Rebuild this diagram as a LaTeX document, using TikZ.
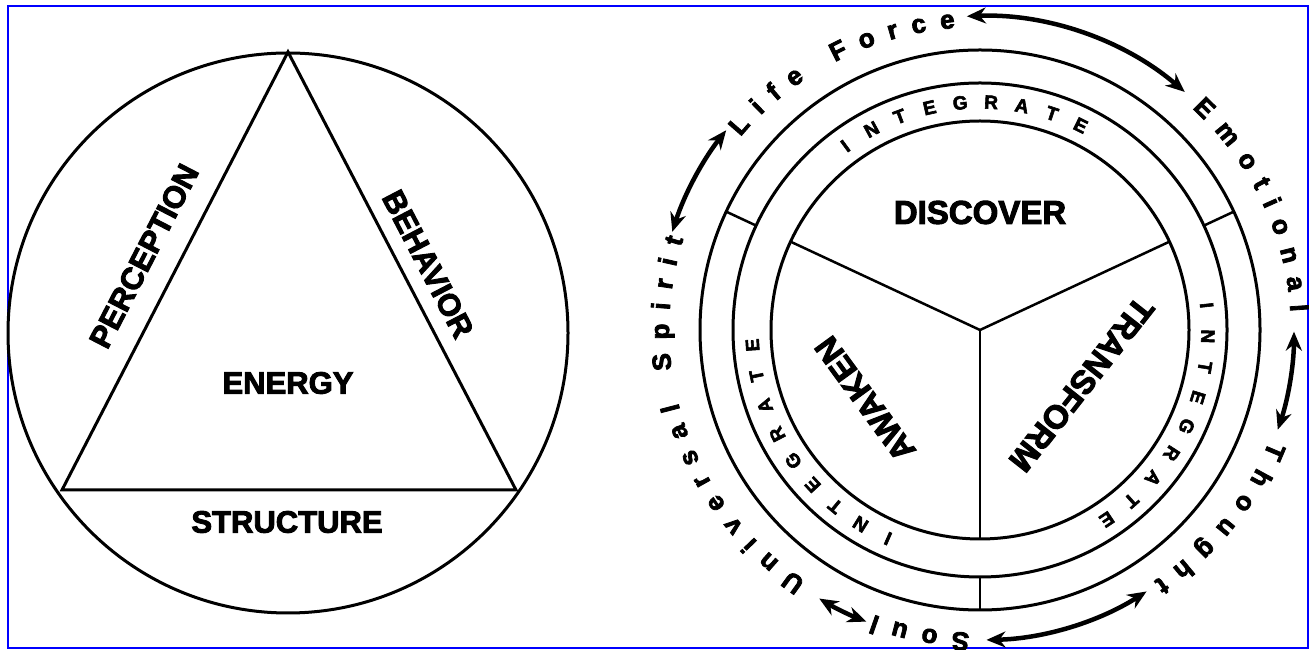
\documentclass[tikz,border=0pt]{standalone}
\usepackage{fontspec}
\setmainfont{Liberation Sans}[BoldFeatures={FakeBold=3}]
\usetikzlibrary{arrows.meta}
\def\outersize{26}
\newcommand\outerfont{\fontsize{26}{30}\selectfont\bfseries}
\newcommand\ringfont{\fontsize{19}{22}\selectfont\bfseries}
\def\trk{13.5}
\def\arcR{307}
% #1 = name, #2 = angle of left edge of first letter, #3 = letter/width(em) pairs
\newcommand\arcword[3]{%
  \xdef\curang{#2}%
  \foreach \ch/\wem [count=\i] in {#3}{%
    \pgfmathsetmacro\cw{\wem*\outersize}%
    \pgfmathsetmacro\ca{\curang-(\cw/2)/\arcR*57.29578}%
    \node[outerlbl,rotate=\ca-90] (#1-\i) at (\ca:311 and 303) {\ch};%
    \pgfmathsetmacro\na{\curang-(\cw+\trk)/\arcR*57.29578}%
    \global\let\curang\na
  }}
\begin{document}
\begin{tikzpicture}[x=1pt,y=1pt,
  lw/.style={line width=3pt},
  thinlw/.style={line width=2.5pt},
  leftlbl/.style={font=\fontsize{31}{36}\selectfont\bfseries, inner sep=0pt},
  rightlbl/.style={font=\fontsize{33}{38}\selectfont\bfseries, inner sep=0pt},
  outerlbl/.style={font=\outerfont, anchor=base, inner sep=0pt},
  ringlbl/.style={font=\ringfont, inner sep=0pt},
  dblarrow/.style={line width=4.5pt, {Stealth[length=19pt,width=16pt]}-{Stealth[length=19pt,width=16pt]}}]
\useasboundingbox (0,0) rectangle (1309,650);
\fill[white] (0,0) rectangle (1309,650);
\draw[blue, line width=2.5pt] (8,2) rectangle (1308,644);

% ---------- left diagram ----------
\coordinate (LC) at (288,317);
\draw[lw] (LC) circle[radius=280];
\coordinate (TA) at (288,598);
\coordinate (TL) at (62,160);
\coordinate (TR) at (516,160);
\draw[lw, line join=miter] (TA) -- (TL) -- (TR) -- cycle;
\node[leftlbl, rotate=62.7] (perc) at (144,394) {PERCEPTION};
\node[leftlbl, rotate=-62.5] (beh) at (428,386) {BEHAVIOR};
\node[leftlbl] (energy) at (288,267) {ENERGY};
\node[leftlbl] (struct) at (287,128) {STRUCTURE};

% ---------- right diagram ----------
\begin{scope}[shift={(980,320)}]
\coordinate (C) at (0,0);
\draw[lw] (C) circle[radius=280];
\draw[lw] (C) circle[radius=247];
\draw[lw] (C) circle[radius=209];
\foreach \a in {155,25,270}{
  \coordinate (in\a) at (\a:209);
  \coordinate (ma\a) at (\a:247);
  \coordinate (ou\a) at (\a:280);
  \draw[thinlw] (C) -- (in\a);
  \draw[thinlw] (ma\a) -- (ou\a);
}
\node[rightlbl] (disc) at (0,117.5) {DISCOVER};
\node[rightlbl, rotate=231.8] (trans) at (101.5,-54.5) {TRANSFORM};
\node[rightlbl, rotate=126.1] (awak) at (-115,-69) {AWAKEN};

\foreach \c in {95,-25,215}{
  \foreach \L [count=\k from 0] in {I,N,T,E,G,R,A,T,E}{
    \pgfmathsetmacro\ang{\c+(4-\k)*7.8}
    \node[ringlbl, rotate=\ang-90] (ring\c-\k) at (\ang:228) {\L};
  }
}

\arcword{life}{140.4}{L/.611,i/.278,f/.333,e/.556,\ /.278,F/.611,o/.611,r/.389,c/.556,e/.556}
\arcword{emo}{47.0}{E/.667,m/.889,o/.611,t/.333,i/.278,o/.611,n/.611,a/.556,l/.278}
\arcword{tho}{-21.5}{T/.611,h/.611,o/.611,u/.611,g/.611,h/.611,t/.333}
\arcword{soul}{268.1}{S/.667,o/.611,u/.611,l/.278}
\arcword{uni}{235.9}{U/.722,n/.611,i/.278,v/.556,e/.556,r/.389,s/.556,a/.556,l/.278,\ /.278,S/.667,p/.611,i/.278,r/.389,i/.278,t/.333}

\coordinate (a1) at (92.4:314);
\draw[dblarrow] (a1) arc[start angle=92.4, end angle=49.3, radius=314];
\coordinate (a2) at (-0.3:314);
\draw[dblarrow] (a2) arc[start angle=-0.3, end angle=-18.5, radius=314];
\coordinate (a3) at (-57.5:310);
\draw[dblarrow] (a3) arc[start angle=-57.5, end angle=-88.8, radius=310];
\coordinate (a4) at (248.7:313);
\draw[dblarrow] (a4) arc[start angle=248.7, end angle=239.1, radius=313];
\coordinate (a5) at (162.3:323);
\draw[dblarrow] (a5) arc[start angle=162.3, end angle=141.8, radius=323];
\end{scope}
\end{tikzpicture}
\end{document}
